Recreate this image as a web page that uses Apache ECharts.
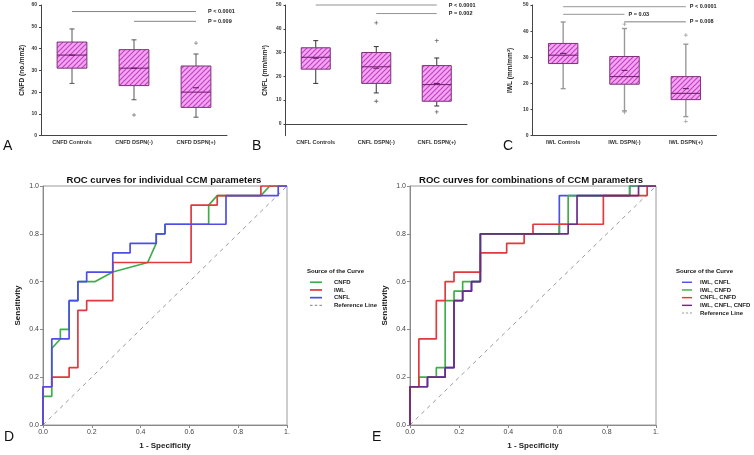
<!DOCTYPE html>
<html><head><meta charset="utf-8">
<script src="https://cdn.jsdelivr.net/npm/echarts@6.0.0/dist/echarts.min.js"></script>
<style>html,body{margin:0;padding:0;background:#fff}#c{width:754px;height:455px}</style>
</head><body><div id="c"></div>
<script>
// ---------- DATA ----------
const catsA = ['CNFD Controls', 'CNFD DSPN(-)', 'CNFD DSPN(+)'];
const catsB = ['CNFL Controls', 'CNFL DSPN(-)', 'CNFL DSPN(+)'];
const catsC = ['IWL Controls', 'IWL DSPN(-)', 'IWL DSPN(+)'];
// [min whisker, Q1, median, Q3, max whisker, mean]
const boxA = [[24, 31, 37, 43, 49, 37], [16.5, 23, 31, 39.5, 44, 31], [8.5, 13, 20, 32, 37.5, 22]];
const boxB = [[17, 23, 28, 32, 35, 27.6], [13, 17, 24, 30, 32.5, 23.4], [7.5, 9.5, 16.5, 24.5, 27.7, 17]];
const boxC = [[18, 27.6, 30.8, 35.3, 43.5, 31.5], [9.5, 19.7, 22.6, 30.3, 41, 25], [7.3, 13.8, 16.2, 22.6, 35, 18]];
// outliers [category index, value]
const outA = [[1, 9.5], [2, 42.5]];
const outB = [[1, 42.5], [1, 9.5], [2, 35], [2, 5]];
const outC = [[1, 42.7], [1, 9], [2, 38.5], [2, 5.5]];
// significance lines [from cat, to cat, y]
const sigA = [[0, 2, 57], [1, 2, 52.5]];
const sigALabels = ['P < 0.0001', 'P = 0.009'];
const sigB = [[0, 2, 50], [1, 2, 46.4]];
const sigBLabels = ['P < 0.0001', 'P = 0.002'];
const sigC = [[0, 2, 49.4], [0, 1, 46.4], [1, 2, 43.6]];
const sigCLabels = ['P < 0.0001', 'P = 0.03', 'P = 0.008'];
const ticksA = [0, 10, 20, 30, 40, 50, 60];
const ticksB = [0, 10, 20, 30, 40, 50];
const ticksC = [0, 10, 20, 30, 40, 50];

// ROC curves [1 - specificity, sensitivity]
const rocCNFD = [[0,0],[0,0.12],[0.036,0.12],[0.036,0.32],[0.071,0.36],[0.071,0.4],[0.107,0.4],[0.107,0.52],[0.143,0.52],[0.143,0.6],[0.214,0.6],[0.286,0.64],[0.429,0.68],[0.464,0.76],[0.464,0.8],[0.5,0.8],[0.5,0.84],[0.679,0.84],[0.679,0.92],[0.714,0.96],[0.893,0.96],[0.929,1],[1,1]];
const rocIWL = [[0,0],[0,0.16],[0.036,0.16],[0.036,0.2],[0.107,0.2],[0.107,0.24],[0.143,0.24],[0.143,0.48],[0.179,0.48],[0.179,0.52],[0.286,0.52],[0.286,0.68],[0.607,0.68],[0.607,0.92],[0.714,0.92],[0.714,0.96],[0.893,0.96],[0.893,1],[1,1]];
const rocCNFL = [[0,0],[0,0.16],[0.036,0.16],[0.036,0.36],[0.107,0.36],[0.107,0.52],[0.143,0.52],[0.143,0.6],[0.179,0.6],[0.179,0.64],[0.286,0.64],[0.286,0.72],[0.357,0.72],[0.357,0.76],[0.464,0.76],[0.464,0.8],[0.5,0.8],[0.5,0.84],[0.75,0.84],[0.75,0.96],[0.964,0.96],[0.964,1],[1,1]];
const rocIwlCnfl = [[0,0],[0,0.16],[0.071,0.16],[0.071,0.2],[0.143,0.2],[0.143,0.24],[0.179,0.24],[0.179,0.52],[0.214,0.52],[0.214,0.56],[0.25,0.56],[0.25,0.6],[0.286,0.6],[0.286,0.8],[0.607,0.8],[0.607,0.96],[0.893,0.96],[0.893,1],[1,1]];
const rocIwlCnfd = [[0,0],[0,0.16],[0.036,0.16],[0.036,0.2],[0.107,0.2],[0.107,0.24],[0.143,0.24],[0.143,0.52],[0.179,0.52],[0.179,0.56],[0.214,0.56],[0.214,0.6],[0.286,0.6],[0.286,0.8],[0.607,0.8],[0.607,0.84],[0.643,0.84],[0.643,0.96],[0.893,0.96],[0.893,1],[1,1]];
const rocCnflCnfd = [[0,0],[0,0.16],[0.036,0.16],[0.036,0.36],[0.107,0.36],[0.107,0.52],[0.143,0.52],[0.143,0.6],[0.179,0.6],[0.179,0.64],[0.286,0.64],[0.286,0.72],[0.393,0.72],[0.393,0.76],[0.464,0.76],[0.464,0.8],[0.5,0.8],[0.5,0.84],[0.786,0.84],[0.786,0.96],[0.964,0.96],[0.964,1],[1,1]];
const rocAll = [[0,0],[0,0.16],[0.071,0.16],[0.071,0.2],[0.143,0.2],[0.143,0.24],[0.179,0.24],[0.179,0.52],[0.214,0.52],[0.214,0.56],[0.25,0.56],[0.25,0.6],[0.286,0.6],[0.286,0.8],[0.643,0.8],[0.643,0.84],[0.679,0.84],[0.679,0.96],[0.929,0.96],[0.929,1],[1,1]];
const refLine = [[0,0],[1,1]];
const rocTicks = [0, 0.2, 0.4, 0.6, 0.8, 1];
const legendD = ['CNFD', 'IWL', 'CNFL', 'Reference Line'];
const legendE = ['IWL, CNFL', 'IWL, CNFD', 'CNFL, CNFD', 'IWL, CNFL, CNFD', 'Reference Line'];

// ---------- STYLE HELPERS ----------
function hatch() {
  const c = document.createElement('canvas');
  c.width = 5; c.height = 5;
  const g = c.getContext('2d');
  g.fillStyle = '#f3a6f1'; g.fillRect(0, 0, 5, 5);
  g.strokeStyle = '#c640c6'; g.lineWidth = 1.2;
  g.beginPath();
  g.moveTo(0, 5); g.lineTo(5, 0);
  g.moveTo(-1, 1); g.lineTo(1, -1);
  g.moveTo(4, 6); g.lineTo(6, 4);
  g.stroke();
  return c;
}
const pat = { image: hatch(), repeat: 'repeat' };
const FONT = 'Liberation Sans, Arial, sans-serif';
const cross = 'path://M4,0h2v4h4v2h-4v4h-2v-4h-4v-2h4z';
const solidIcon = 'path://M0,0h14v2h-14z';
const dashIcon = 'path://M0,0h3v1.4h-3zM5.5,0h3v1.4h-3zM11,0h3v1.4h-3z';

function boxSeries(idx, data, wColor, wWidth) {
  return {
    type: 'custom', xAxisIndex: idx, yAxisIndex: idx,
    data: data.map((d, i) => [i].concat(d)),
    encode: { x: 0, y: [1, 2, 3, 4, 5] },
    renderItem: function (params, api) {
      const i = api.value(0);
      const x = api.coord([i, 0])[0];
      const bw = api.size([1, 0])[0] * 0.48;
      const Y = k => api.coord([i, api.value(k)])[1];
      const yMin = Y(1), yQ1 = Y(2), yMed = Y(3), yQ3 = Y(4), yMax = Y(5), yMean = Y(6);
      const ws = { stroke: wColor, lineWidth: wWidth };
      return {
        type: 'group', children: [
          { type: 'line', shape: { x1: x, y1: yMax, x2: x, y2: yQ3 }, style: ws },
          { type: 'line', shape: { x1: x, y1: yQ1, x2: x, y2: yMin }, style: ws },
          { type: 'line', shape: { x1: x - 2.5, y1: yMax, x2: x + 2.5, y2: yMax }, style: ws },
          { type: 'line', shape: { x1: x - 2.5, y1: yMin, x2: x + 2.5, y2: yMin }, style: ws },
          { type: 'rect', shape: { x: x - bw / 2, y: yQ3, width: bw, height: yQ1 - yQ3 }, style: { fill: pat, stroke: '#7d3179', lineWidth: 1 } },
          { type: 'line', shape: { x1: x - bw / 2, y1: yMed, x2: x + bw / 2, y2: yMed }, style: { stroke: '#6a1f66', lineWidth: 1 } },
          { type: 'line', shape: { x1: x - 3, y1: yMean, x2: x + 3, y2: yMean }, style: { stroke: '#5a1556', lineWidth: 1 } }
        ]
      };
    }
  };
}
function outSeries(idx, data, color) {
  return { type: 'scatter', xAxisIndex: idx, yAxisIndex: idx, data: data, symbol: cross, symbolSize: 4, itemStyle: { color: color }, silent: true };
}
function sigSeries(idx, data, labels, color, width, off) {
  return {
    type: 'custom', xAxisIndex: idx, yAxisIndex: idx, data: data, silent: true,
    renderItem: function (params, api) {
      const p0 = api.coord([api.value(0), api.value(2)]);
      const p1 = api.coord([api.value(1), api.value(2)]);
      return {
        type: 'group', children: [
          { type: 'line', shape: { x1: p0[0], y1: p0[1], x2: p1[0], y2: p1[1] }, style: { stroke: color, lineWidth: width } },
          { type: 'text', x: p1[0] + off, y: p1[1], style: { text: labels[params.dataIndex], fill: '#222', font: 'bold 5.5px ' + FONT, align: 'left', verticalAlign: 'middle' } }
        ]
      };
    }
  };
}
function catAxis(idx, cats) {
  return {
    type: 'category', gridIndex: idx, data: cats, boundaryGap: true,
    axisLine: { lineStyle: { color: '#444', width: 1 } },
    axisTick: { alignWithLabel: true, length: 3, lineStyle: { color: '#444' } },
    axisLabel: { fontSize: 5.5, fontWeight: 'bold', color: '#333', fontFamily: FONT, margin: 4 }
  };
}
function valAxis(idx, min, max, ticks, name, gap) {
  return {
    type: 'value', gridIndex: idx, min: min, max: max, name: name, nameLocation: 'middle', nameGap: gap,
    nameTextStyle: { fontSize: 6.5, fontWeight: 'bold', color: '#222', fontFamily: FONT },
    axisLine: { show: true, lineStyle: { color: '#444', width: 1 } },
    axisTick: { show: true, length: 2, customValues: ticks, lineStyle: { color: '#444' } },
    axisLabel: { fontSize: 5, fontWeight: 'bold', color: '#333', fontFamily: FONT, margin: 4, customValues: ticks },
    splitLine: { show: false }
  };
}
function rocX(idx) {
  return {
    type: 'value', gridIndex: idx, min: 0, max: 1, name: '1 - Specificity', nameLocation: 'middle', nameGap: 17,
    nameTextStyle: { fontSize: 8, fontWeight: 'bold', color: '#222', fontFamily: FONT },
    axisLine: { lineStyle: { color: '#8a8a8a' } },
    axisTick: { show: true, length: 3, customValues: rocTicks, lineStyle: { color: '#8a8a8a' } },
    axisLabel: { fontSize: 7, color: '#444', fontFamily: FONT, margin: 4, customValues: rocTicks, formatter: v => v === 1 ? '1.' : v.toFixed(1) },
    splitLine: { show: false }
  };
}
function rocY(idx) {
  return {
    type: 'value', gridIndex: idx, min: 0, max: 1, name: 'Sensitivity', nameLocation: 'middle', nameGap: 21,
    nameTextStyle: { fontSize: 8, fontWeight: 'bold', color: '#222', fontFamily: FONT },
    axisLine: { show: true, lineStyle: { color: '#8a8a8a' } },
    axisTick: { show: true, length: 3, customValues: rocTicks, lineStyle: { color: '#8a8a8a' } },
    axisLabel: { fontSize: 7, color: '#444', fontFamily: FONT, margin: 4, customValues: rocTicks, formatter: v => v.toFixed(1) },
    splitLine: { show: false }
  };
}
function roc(idx, name, data, color, z) {
  return { type: 'line', name: name, xAxisIndex: idx, yAxisIndex: idx, data: data, symbol: 'none', z: z || 2,
    lineStyle: { color: color, width: 1.7 }, itemStyle: { color: color } };
}
function ref(idx) {
  return { type: 'line', name: 'Reference Line', xAxisIndex: idx, yAxisIndex: idx, data: refLine, symbol: 'none', z: 1,
    lineStyle: { color: '#9a9a9a', width: 1, type: [4, 4] }, itemStyle: { color: '#9a9a9a' } };
}
function txt(x, y, text, font, align) {
  return { type: 'text', x: x, y: y, silent: true, style: { text: text, font: font, fill: '#111', align: align || 'left', verticalAlign: 'middle' } };
}
function legendItems(names) {
  return names.map(n => ({ name: n, icon: n === 'Reference Line' ? dashIcon : solidIcon }));
}
const GREEN = '#3fae48', RED = '#e0393e', BLUE = '#4e4ee6', PURPLE = '#6c2a86';
function legendCfg(left, top, names, textGap, iconW) {
  return {
    orient: 'vertical', left: left, top: top, itemWidth: iconW, itemHeight: 2, itemGap: 1.2, selectedMode: false,
    data: legendItems(names),
    textStyle: { fontSize: 6, fontWeight: 'bold', color: '#222', fontFamily: FONT, padding: [0, 0, 0, textGap], lineHeight: 6.5 }
  };
}

const chart = echarts.init(document.getElementById('c'), null, { renderer: 'canvas' });
chart.setOption({
  animation: false,
  backgroundColor: '#fff',
  grid: [
    { left: 41, top: 5, width: 186, height: 130.7, show: false },
    { left: 285.5, top: 5, width: 181.5, height: 130.7, show: false },
    { left: 532.5, top: 5, width: 184, height: 130.7, show: false },
    { left: 43, top: 186, width: 244, height: 240, show: true, borderColor: '#9a9a9a', borderWidth: 1 },
    { left: 410, top: 186, width: 246, height: 241, show: true, borderColor: '#9a9a9a', borderWidth: 1 }
  ],
  xAxis: [catAxis(0, catsA), catAxis(1, catsB), catAxis(2, catsC), rocX(3), rocX(4)],
  yAxis: [
    valAxis(0, 0, 60, ticksA, 'CNFD (no./mm2)', 15),
    valAxis(1, -5, 50, ticksB, 'CNFL (mm/mm²)', 17),
    valAxis(2, 0, 50, ticksC, 'IWL (mm/mm²)', 19),
    rocY(3), rocY(4)
  ],
  legend: [
    legendCfg(305, 274, legendD, 7, 12),
    legendCfg(677, 274, legendE, 3, 10)
  ],
  graphic: [
    txt(3, 146, 'A', '14px ' + FONT),
    txt(252, 146, 'B', '14px ' + FONT),
    txt(503, 146, 'C', '14px ' + FONT),
    txt(4, 437, 'D', '14px ' + FONT),
    txt(372, 437, 'E', '14px ' + FONT),
    txt(164, 180, 'ROC curves for individual CCM parameters', 'bold 9.5px ' + FONT, 'center'),
    txt(531, 180, 'ROC curves for combinations of CCM parameters', 'bold 9.5px ' + FONT, 'center'),
    txt(307, 271, 'Source of the Curve', 'bold 6px ' + FONT),
    txt(676, 271, 'Source of the Curve', 'bold 6px ' + FONT)
  ],
  series: [
    boxSeries(0, boxA, '#555', 1), outSeries(0, outA, '#666'), sigSeries(0, sigA, sigALabels, '#666', 0.8, 12),
    boxSeries(1, boxB, '#333', 1), outSeries(1, outB, '#444'), sigSeries(1, sigB, sigBLabels, '#777', 0.8, 12),
    boxSeries(2, boxC, '#999', 1.4), outSeries(2, outC, '#888'), sigSeries(2, sigC, sigCLabels, '#aaa', 1.3, 4),
    roc(3, 'CNFD', rocCNFD, GREEN, 2), roc(3, 'IWL', rocIWL, RED, 3), roc(3, 'CNFL', rocCNFL, BLUE, 4), ref(3),
    roc(4, 'IWL, CNFL', rocIwlCnfl, BLUE, 2), roc(4, 'IWL, CNFD', rocIwlCnfd, GREEN, 3), roc(4, 'CNFL, CNFD', rocCnflCnfd, RED, 4), roc(4, 'IWL, CNFL, CNFD', rocAll, PURPLE, 5), ref(4)
  ]
});
</script></body></html>
